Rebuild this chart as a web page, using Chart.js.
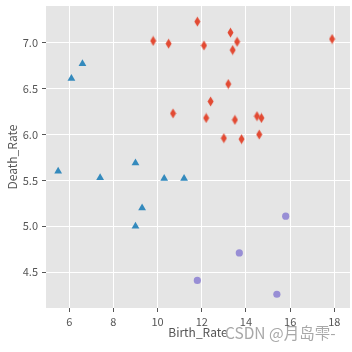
<!DOCTYPE html>
<html>
<head>
<meta charset="utf-8">
<script src="https://cdn.jsdelivr.net/npm/chart.js@4"></script>
<style>
  html, body { margin: 0; padding: 0; background: #fff; }
  #wrap { position: relative; width: 352px; height: 352px; }
  #mark { position: absolute; left: 225px; top: 321px; font: 15.5px "Noto Sans CJK SC", sans-serif; color: #a8a8a8; white-space: nowrap; }
</style>
</head>
<body>
<div id="wrap">
  <canvas id="scatter" width="352" height="352"></canvas>
  <span id="mark">CSDN @月岛雫-</span>
</div>
<script>
const ctx = document.getElementById("scatter");

// group 1 (red thin diamonds)
const redBirth = [11.8, 13.3, 13.6, 12.1, 13.4, 17.9, 13.2, 12.4, 12.2, 13.5, 14.5, 14.7, 13.0, 13.8, 14.6, 9.8, 10.5, 10.7];
const redDeath = [7.23, 7.11, 7.01, 6.97, 6.92, 7.04, 6.55, 6.36, 6.18, 6.16, 6.20, 6.18, 5.96, 5.95, 6.00, 7.02, 6.99, 6.23];
// group 2 (blue triangles)
const blueBirth = [6.1, 6.6, 5.5, 9.0, 7.4, 9.3, 9.0, 10.3, 11.2];
const blueDeath = [6.61, 6.77, 5.60, 5.69, 5.53, 5.20, 5.00, 5.52, 5.52];
// group 3 (purple circles)
const purpleBirth = [15.8, 13.7, 11.8, 15.4];
const purpleDeath = [5.11, 4.71, 4.41, 4.26];

const xTicks = [6, 8, 10, 12, 14, 16, 18];
const yTicks = [4.5, 5.0, 5.5, 6.0, 6.5, 7.0];

const toPoints = (xs, ys) => xs.map((x, i) => ({x: x, y: ys[i]}));

// matplotlib 'd' marker: narrow diamond
const diamond = document.createElement("canvas");
diamond.width = 7;
diamond.height = 11;
const dctx = diamond.getContext("2d");
dctx.fillStyle = "#E24A33";
dctx.beginPath();
dctx.moveTo(3.5, 0.5);
dctx.lineTo(6.5, 5.5);
dctx.lineTo(3.5, 10.5);
dctx.lineTo(0.5, 5.5);
dctx.closePath();
dctx.fill();

const font = "'Noto Sans CJK SC', 'Noto Sans', sans-serif";

const data = {
  datasets: [
    {
      data: toPoints(redBirth, redDeath),
      pointStyle: diamond,
      backgroundColor: "#E24A33",
      borderColor: "#E24A33",
    },
    {
      data: toPoints(blueBirth, blueDeath),
      pointStyle: "triangle",
      pointRadius: 4.5,
      backgroundColor: "#348ABD",
      borderColor: "#348ABD",
      borderWidth: 0,
    },
    {
      data: toPoints(purpleBirth, purpleDeath),
      pointStyle: "circle",
      pointRadius: 3.6,
      backgroundColor: "#988ED5",
      borderColor: "#988ED5",
      borderWidth: 0,
    }
  ]
};

// fixed axis boxes so the panel sits where the reference has it
const fitX = scale => { scale.height = 32; scale.paddingLeft = 0; scale.paddingRight = 0; };
const fitY = scale => { scale.width = 41; scale.paddingTop = 0; scale.paddingBottom = 0; };

const config = {
  type: "scatter",
  data: data,
  plugins: [{
    id: "panelBg",
    beforeDraw(chart) {
      const a = chart.chartArea;
      chart.ctx.save();
      chart.ctx.fillStyle = "#E5E5E5";
      chart.ctx.fillRect(a.left, a.top, a.right - a.left, a.bottom - a.top);
      chart.ctx.restore();
    }
  }],
  options: {
    responsive: false,
    animation: false,
    layout: { autoPadding: false, padding: { top: 6, right: 2, left: 5, bottom: 12 } },
    plugins: {
      legend: { display: false },
      tooltip: { enabled: false }
    },
    scales: {
      x: {
        type: "linear",
        min: 4.95,
        max: 18.71,
        afterBuildTicks: scale => { scale.ticks = xTicks.map(v => ({value: v})); },
        afterFit: fitX,
        border: { display: false },
        grid: { color: "#ffffff", lineWidth: 1, tickColor: "#555555", tickLength: 4 },
        ticks: { color: "#555555", font: { family: font, size: 11 }, padding: 3, maxRotation: 0 },
        title: { display: true, text: "Birth_Rate", color: "#555555", font: { family: font, size: 12 }, padding: 0 }
      },
      y: {
        type: "linear",
        min: 4.11,
        max: 7.40,
        afterBuildTicks: scale => { scale.ticks = yTicks.map(v => ({value: v})); },
        afterFit: fitY,
        border: { display: false },
        grid: { color: "#ffffff", lineWidth: 1, tickColor: "#555555", tickLength: 4 },
        ticks: { color: "#555555", font: { family: font, size: 11 }, padding: 4, callback: v => v.toFixed(1) },
        title: { display: true, text: "Death_Rate", color: "#555555", font: { family: font, size: 12 }, padding: 0 }
      }
    }
  }
};

const myChart = new Chart(ctx, config);
</script>
</body>
</html>
